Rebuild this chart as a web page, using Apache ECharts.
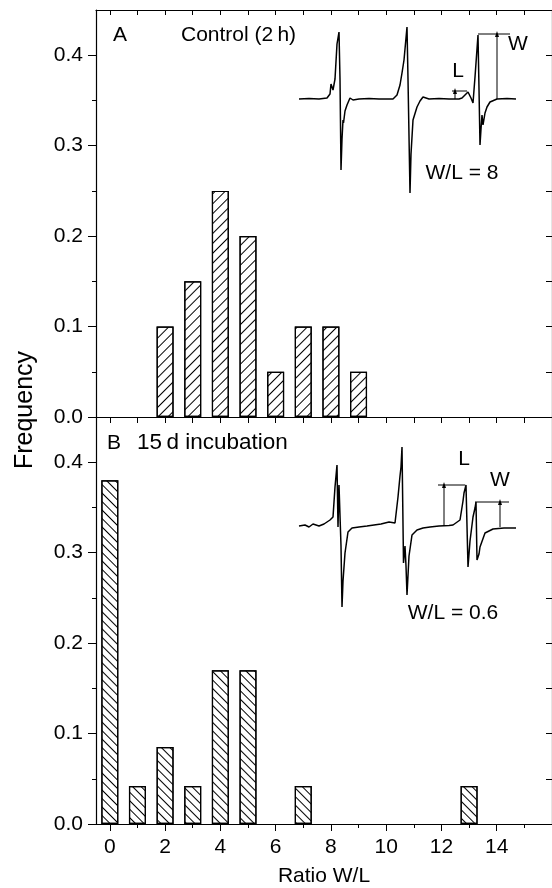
<!DOCTYPE html>
<html><head><meta charset="utf-8">
<script src="https://cdn.jsdelivr.net/npm/echarts@6/dist/echarts.min.js"></script>
<style>html,body{margin:0;padding:0;background:#fff}#c{width:552px;height:888px}</style>
</head><body><div id="c"></div>
<script>
// ---- data ----
const ratioA = [2, 3, 4, 5, 6, 7, 8, 9];
const freqA  = [0.10, 0.15, 0.25, 0.20, 0.05, 0.10, 0.10, 0.05];
const ratioB = [0, 1, 2, 3, 4, 5, 7, 13];
const freqB  = [0.38, 0.042, 0.085, 0.042, 0.17, 0.17, 0.042, 0.042];
const xLabelTicks = [0, 2, 4, 6, 8, 10, 12, 14];
const xMinorTicks = [1, 3, 5, 7, 9, 11, 13, 15];
const xAllTicks = [0,1,2,3,4,5,6,7,8,9,10,11,12,13,14,15];
const yLabelTicks = [0, 0.1, 0.2, 0.3, 0.4];
const yMinorTicks = [0.05, 0.15, 0.25, 0.35];
const yAllTicks = [0, 0.05, 0.1, 0.15, 0.2, 0.25, 0.3, 0.35, 0.4];
// inset EPR spectra (field, arbitrary units; amplitude, arbitrary units)
const specA = [[0,0],[10,0.5],[20,0],[28,1],[31,5],[32,15],[33,17],[34,9],[36,20],[38,55],[40,67],[41,20],[42,-71],[43,-40],[44,-21],[44.5,-24],[46,-12],[48,-6],[51,1],[54,-1],[60,0],[70,0.5],[80,0],[94,0],[98,4],[101,14],[103,26],[105,39],[106,50],[108,72],[109,20],[111,-94],[112,-55],[114,-21],[118,-8],[121,-2],[124,2],[130,0],[140,0.5],[150,0],[160,0],[163,1],[166,4],[169,7],[172,1],[174,-4],[176,22],[178,50],[179,64],[180,10],[181,-46],[182,-30],[183,-16],[184,-26],[186,-14],[188,-8],[191,-3],[198,0],[208,0.5],[217,0]];
const specB = [[0,0],[6,1],[10,-1],[14,2],[20,0],[25,2],[31,6],[34,9],[36,39],[38,61],[39,-1],[40,41],[41,39],[42,-20],[43,-81],[44,-55],[46,-27],[49,-6],[53,-2],[60,-1],[68,0],[75,1],[82,2],[90,4],[91,6],[96,3],[99,29],[101,50],[102,59],[103,79],[104.5,-37],[106,-20],[107,-40],[108,-69],[110,-30],[113,-9],[118,-4],[124,-2],[131,-1],[140,0],[150,0.5],[154,1],[161,6],[164,25],[165,33],[167,41],[169,-41],[171,-15],[174,9],[176,18],[177,24],[178,-34],[180,-28],[181,-21],[186,-7],[194,-3],[205,-2],[217,-2]];
const annA_Wtop = [[179,65],[211,65]];
const annA_Warrow = [[198,0],[198,65]];
const annA_Ltop = [[153,8],[168,8]];
const annA_Larrow = [[156,0],[156,8]];
const annB_Ltop = [[139,41],[166,41]];
const annB_Larrow = [[145,0],[145,41]];
const annB_Wtop = [[176,24],[210,24]];
const annB_Warrow = [[201,-1],[201,24]];

const FONT = '"Liberation Sans", Arial, Helvetica, sans-serif';
const FS = 21;
const chart = echarts.init(document.getElementById('c'), null, {renderer: 'canvas'});

function hatch(rot, gap) {
  return {symbol: 'rect', symbolSize: 1, color: '#000', dashArrayX: [1, 0], dashArrayY: [1, gap], rotation: rot};
}
function xAx(grid, pos, opts) {
  return Object.assign({
    type: 'value', gridIndex: grid, position: pos, min: -0.5, max: 16,
    axisLine: {show: false, onZero: false, lineStyle: {color: '#000', width: 1}},
    axisTick: {show: false}, axisLabel: {show: false}, splitLine: {show: false}
  }, opts);
}
function yAx(grid, pos, opts) {
  return Object.assign({
    type: 'value', gridIndex: grid, position: pos, min: 0, max: 0.45,
    axisLine: {show: false, onZero: false, lineStyle: {color: '#000', width: 1}},
    axisTick: {show: false}, axisLabel: {show: false}, splitLine: {show: false}
  }, opts);
}
const lineStyleAx = {color: '#000', width: 1.2};
const tick = (vals, len, inside, w) => ({show: true, customValues: vals, length: len, inside: inside, lineStyle: {color: '#000', width: w || 1}});
const xLabel = {show: true, customValues: xLabelTicks, margin: 13, fontSize: FS, color: '#000', fontFamily: FONT};
const yLabel = {show: true, customValues: yLabelTicks, margin: 13, fontSize: FS, color: '#000', fontFamily: FONT, formatter: v => v.toFixed(1)};

function lineSeries(xi, yi, data, w) {
  return {type: 'line', xAxisIndex: xi, yAxisIndex: yi, data: data, symbol: 'none', silent: true,
    lineStyle: {color: '#000', width: w}, animation: false};
}
function arrowSeries(xi, yi, data) {
  return {type: 'line', xAxisIndex: xi, yAxisIndex: yi, silent: true, animation: false,
    lineStyle: {color: '#000', width: 1},
    itemStyle: {color: '#000'},
    data: [{value: data[0], symbol: 'none'}, {value: data[1], symbol: 'triangle', symbolSize: [4, 6]}]};
}
const txt = (x, y, s, extra) => ({type: 'text', x: x, y: y, style: Object.assign({text: s, font: FS + 'px ' + FONT, fill: '#000', align: 'center', verticalAlign: 'middle'}, extra || {})});

const option = {
  animation: false,
  backgroundColor: '#fff',
  grid: [
    {left: 96, top: 10, width: 456, height: 407},
    {left: 96, top: 417, width: 456, height: 408},
    {left: 299, top: 20, width: 217, height: 180},
    {left: 299, top: 430, width: 217, height: 200}
  ],
  xAxis: [
    xAx(0, 'bottom', {axisLine: {show: true, onZero: false, lineStyle: lineStyleAx}}),
    xAx(0, 'top', {axisLine: {show: true, onZero: false, lineStyle: lineStyleAx}, axisTick: tick(xAllTicks, 5, true)}),
    xAx(1, 'bottom', {axisLine: {show: true, onZero: false, lineStyle: lineStyleAx}, axisTick: tick(xLabelTicks, 7, false), axisLabel: xLabel,
      name: 'Ratio W/L', nameLocation: 'middle', nameGap: 42, nameTextStyle: {fontSize: FS, color: '#000', fontFamily: FONT}}),
    xAx(1, 'bottom', {axisTick: tick(xMinorTicks, 4, false)}),
    xAx(1, 'top', {axisLine: {show: true, onZero: false, lineStyle: lineStyleAx}, axisTick: tick(xAllTicks, 6, true)}),
    {type: 'value', gridIndex: 2, min: 0, max: 217, show: false},
    {type: 'value', gridIndex: 3, min: 0, max: 217, show: false}
  ],
  yAxis: [
    yAx(0, 'left', {axisLine: {show: true, onZero: false, lineStyle: lineStyleAx}, axisTick: tick(yLabelTicks, 8, false), axisLabel: yLabel}),
    yAx(0, 'left', {axisTick: tick(yMinorTicks, 4, false)}),
    yAx(0, 'right', {axisLine: {show: true, onZero: false, lineStyle: lineStyleAx}, axisTick: tick(yAllTicks, 6, true)}),
    yAx(1, 'left', {axisLine: {show: true, onZero: false, lineStyle: lineStyleAx}, axisTick: tick(yLabelTicks, 8, false), axisLabel: yLabel}),
    yAx(1, 'left', {axisTick: tick(yMinorTicks, 4, false)}),
    yAx(1, 'right', {axisLine: {show: true, onZero: false, lineStyle: lineStyleAx}, axisTick: tick(yAllTicks, 6, true)}),
    {type: 'value', gridIndex: 2, min: -101, max: 79, show: false},
    {type: 'value', gridIndex: 3, min: -104, max: 96, show: false}
  ],
  series: [
    {type: 'bar', xAxisIndex: 0, yAxisIndex: 0, barWidth: 17, silent: true,
      data: ratioA.map((r, i) => [r, freqA[i]]),
      itemStyle: {color: '#fff', borderColor: '#000', borderWidth: 1.2, decal: hatch(-Math.PI / 4, 6)}},
    {type: 'bar', xAxisIndex: 2, yAxisIndex: 3, barWidth: 17, silent: true,
      data: ratioB.map((r, i) => [r, freqB[i]]),
      itemStyle: {color: '#fff', borderColor: '#000', borderWidth: 1.2, decal: hatch(Math.PI / 4, 5)}},
    lineSeries(5, 6, specA, 1.5),
    lineSeries(6, 7, specB, 1.5),
    lineSeries(5, 6, annA_Wtop, 1),
    arrowSeries(5, 6, annA_Warrow),
    lineSeries(5, 6, annA_Ltop, 1),
    arrowSeries(5, 6, annA_Larrow),
    lineSeries(6, 7, annB_Ltop, 1),
    arrowSeries(6, 7, annB_Larrow),
    lineSeries(6, 7, annB_Wtop, 1),
    arrowSeries(6, 7, annB_Warrow)
  ],
  graphic: [
    txt(113, 35, 'A', {align: 'left'}),
    txt(181, 35, 'Control (2\u2009h)', {align: 'left'}),
    txt(107, 443, 'B', {align: 'left'}),
    txt(137, 443, '15\u2009d incubation', {align: 'left', font: '22.5px ' + FONT}),
    txt(518, 44, 'W'),
    txt(458, 71, 'L'),
    txt(462, 173, 'W/L = 8'),
    txt(464, 459, 'L'),
    txt(500, 480, 'W'),
    txt(453, 613, 'W/L = 0.6'),
    Object.assign(txt(25, 410, 'Frequency', {font: '25px ' + FONT}), {rotation: Math.PI / 2})
  ]
};
chart.setOption(option);
</script>
</body></html>
